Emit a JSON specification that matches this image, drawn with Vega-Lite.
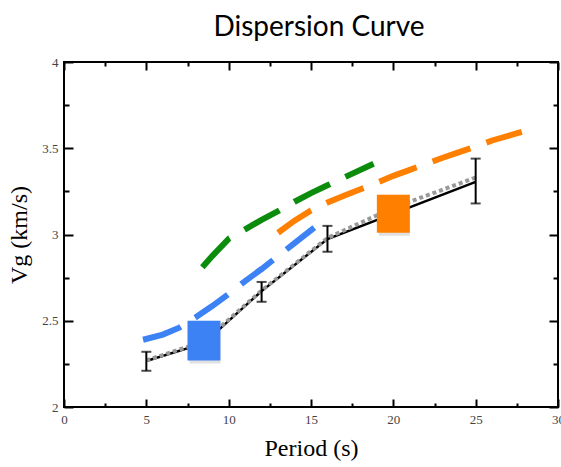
{
  "$schema": "https://vega.github.io/schema/vega-lite/v6.json",
  "width": 494,
  "height": 345,
  "autosize": "none",
  "padding": {"left": 64, "top": 62, "right": 3, "bottom": 60},
  "background": "white",
  "title": {"text": "Dispersion Curve", "font": "Lato", "fontSize": 28, "fontWeight": "normal", "color": "black", "anchor": "middle", "frame": "group", "dx": 8, "offset": 14},
  "config": {"view": {"stroke": "black", "strokeWidth": 2}},
  "datasets": {
    "obs": [
      {"period": 5, "vg": 2.267},
      {"period": 8.5, "vg": 2.37},
      {"period": 12, "vg": 2.672},
      {"period": 16, "vg": 2.974},
      {"period": 25, "vg": 3.305}
    ],
    "model": [
      {"period": 5, "vg": 2.27},
      {"period": 8.5, "vg": 2.38},
      {"period": 12, "vg": 2.675},
      {"period": 16, "vg": 2.98},
      {"period": 20, "vg": 3.155},
      {"period": 25, "vg": 3.33}
    ],
    "err": [
      {"period": 5, "lo": 2.21, "hi": 2.32},
      {"period": 12, "lo": 2.61, "hi": 2.725},
      {"period": 16, "lo": 2.9, "hi": 3.05},
      {"period": 25, "lo": 3.18, "hi": 3.44}
    ],
    "blue": [
      {"period": 4.8, "vg": 2.39},
      {"period": 6, "vg": 2.42},
      {"period": 7, "vg": 2.46},
      {"period": 8, "vg": 2.52},
      {"period": 9, "vg": 2.585},
      {"period": 10, "vg": 2.655},
      {"period": 11, "vg": 2.73},
      {"period": 12, "vg": 2.8},
      {"period": 13, "vg": 2.875},
      {"period": 14, "vg": 2.95},
      {"period": 15.2, "vg": 3.04}
    ],
    "orange": [
      {"period": 13, "vg": 3.01},
      {"period": 14, "vg": 3.08},
      {"period": 15, "vg": 3.14},
      {"period": 16, "vg": 3.185},
      {"period": 17, "vg": 3.225},
      {"period": 18, "vg": 3.262},
      {"period": 19, "vg": 3.3},
      {"period": 20, "vg": 3.34},
      {"period": 21, "vg": 3.375},
      {"period": 22, "vg": 3.41},
      {"period": 23, "vg": 3.445},
      {"period": 24, "vg": 3.478},
      {"period": 25, "vg": 3.51},
      {"period": 26, "vg": 3.545},
      {"period": 27.8, "vg": 3.595}
    ],
    "green": [
      {"period": 8.4, "vg": 2.81},
      {"period": 9, "vg": 2.875},
      {"period": 10, "vg": 2.975},
      {"period": 11, "vg": 3.03},
      {"period": 12, "vg": 3.085},
      {"period": 13, "vg": 3.135},
      {"period": 14, "vg": 3.19},
      {"period": 15, "vg": 3.24},
      {"period": 16, "vg": 3.285},
      {"period": 17, "vg": 3.33},
      {"period": 18.8, "vg": 3.41}
    ],
    "squares": [
      {"name": "blue", "x1": 7.5, "x2": 9.5, "y1": 2.27, "y2": 2.5},
      {"name": "orange", "x1": 19, "x2": 21, "y1": 3.01, "y2": 3.23}
    ]
  },
  "layer": [
    {
      "data": {"name": "obs"},
      "mark": {"type": "line", "color": "black", "strokeWidth": 2.5},
      "encoding": {
        "x": {"field": "period", "type": "quantitative", "scale": {"domain": [0, 30], "nice": false, "zero": false},
          "axis": {"orient": "bottom", "values": [0, 2.5, 5, 7.5, 10, 12.5, 15, 17.5, 20, 22.5, 25, 27.5, 30], "format": "~g",
            "labelExpr": "datum.value % 5 === 0 ? datum.label : ''", "labelFlush": false,
            "labelFont": "Liberation Serif", "labelFontSize": 13, "labelColor": "#444", "labelPadding": 14,
            "tickColor": "black", "tickWidth": 2,
            "tickSize": {"condition": {"test": "datum.value % 5 !== 0", "value": -4}, "value": -8},
            "domain": false, "grid": false,
            "title": "Period (s)", "titleFont": "Liberation Serif", "titleFontSize": 24, "titleFontWeight": "normal", "titleColor": "black", "titlePadding": 10}},
        "y": {"field": "vg", "type": "quantitative", "scale": {"domain": [2, 4], "nice": false, "zero": false},
          "axis": {"orient": "left", "values": [2, 2.25, 2.5, 2.75, 3, 3.25, 3.5, 3.75, 4], "format": "~g",
            "labelExpr": "(datum.value * 2) % 1 === 0 ? datum.label : ''", "labelFlush": false,
            "labelFont": "Liberation Serif", "labelFontSize": 13, "labelColor": "#444", "labelPadding": 15,
            "tickColor": "black", "tickWidth": 2,
            "tickSize": {"condition": {"test": "(datum.value * 2) % 1 !== 0", "value": -5}, "value": -9},
            "domain": false, "grid": false,
            "title": "Vg (km/s)", "titleFont": "Liberation Serif", "titleFontSize": 24, "titleFontWeight": "normal", "titleColor": "black", "titlePadding": 10}}
      }
    },
    {
      "data": {"name": "model"},
      "mark": {"type": "line", "color": "#999999", "strokeWidth": 4, "strokeDash": [4, 3]},
      "encoding": {
        "x": {"field": "period", "type": "quantitative",
          "axis": {"orient": "top", "values": [0, 2.5, 5, 7.5, 10, 12.5, 15, 17.5, 20, 22.5, 25, 27.5, 30], "labels": false,
            "tickColor": "black", "tickWidth": 2,
            "tickSize": {"condition": {"test": "datum.value % 5 !== 0", "value": -4}, "value": -8},
            "domain": false, "grid": false, "title": null}},
        "y": {"field": "vg", "type": "quantitative",
          "axis": {"orient": "right", "values": [2, 2.25, 2.5, 2.75, 3, 3.25, 3.5, 3.75, 4], "labels": false,
            "tickColor": "black", "tickWidth": 2,
            "tickSize": {"condition": {"test": "(datum.value * 2) % 1 !== 0", "value": -5}, "value": -9},
            "domain": false, "grid": false, "title": null}}
      }
    },
    {
      "data": {"name": "err"},
      "mark": {"type": "errorbar", "ticks": {"size": 10, "thickness": 2, "color": "black"}, "thickness": 2, "color": "black"},
      "encoding": {
        "x": {"field": "period", "type": "quantitative", "axis": null},
        "y": {"field": "lo", "type": "quantitative", "axis": null},
        "y2": {"field": "hi"}
      }
    },
    {
      "data": {"name": "blue"},
      "mark": {"type": "line", "color": "#3D82F5", "strokeWidth": 6, "strokeDash": [40, 17], "strokeCap": "butt"},
      "encoding": {
        "x": {"field": "period", "type": "quantitative", "axis": null},
        "y": {"field": "vg", "type": "quantitative", "axis": null}
      }
    },
    {
      "data": {"name": "orange"},
      "mark": {"type": "line", "color": "#FF7F00", "strokeWidth": 6, "strokeDash": [40, 17], "strokeCap": "butt"},
      "encoding": {
        "x": {"field": "period", "type": "quantitative", "axis": null},
        "y": {"field": "vg", "type": "quantitative", "axis": null}
      }
    },
    {
      "data": {"name": "green"},
      "mark": {"type": "line", "color": "#0C8C0C", "strokeWidth": 6, "strokeDash": [40, 17], "strokeCap": "butt"},
      "encoding": {
        "x": {"field": "period", "type": "quantitative", "axis": null},
        "y": {"field": "vg", "type": "quantitative", "axis": null}
      }
    },
    {
      "data": {"name": "squares"},
      "mark": {"type": "rect", "color": "black", "opacity": 0.12, "xOffset": 2, "yOffset": 3},
      "encoding": {
        "x": {"field": "x1", "type": "quantitative", "axis": null},
        "x2": {"field": "x2"},
        "y": {"field": "y1", "type": "quantitative", "axis": null},
        "y2": {"field": "y2"}
      }
    },
    {
      "data": {"name": "squares"},
      "mark": {"type": "rect", "opacity": 1},
      "encoding": {
        "x": {"field": "x1", "type": "quantitative", "axis": null},
        "x2": {"field": "x2"},
        "y": {"field": "y1", "type": "quantitative", "axis": null},
        "y2": {"field": "y2"},
        "color": {"field": "name", "type": "nominal", "scale": {"domain": ["blue", "orange"], "range": ["#3D82F5", "#FF7F00"]}, "legend": null}
      }
    }
  ],
  "resolve": {"axis": {"x": "independent", "y": "independent"}}
}
